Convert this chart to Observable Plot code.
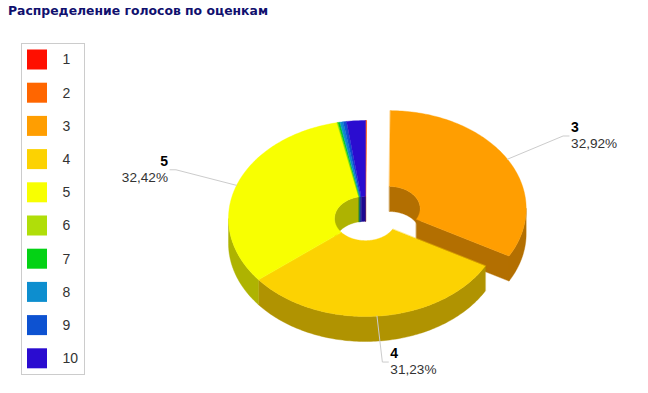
<!DOCTYPE html>
<html><head><meta charset="utf-8">
<script src="https://cdn.jsdelivr.net/npm/d3@7"></script>
<script src="https://cdn.jsdelivr.net/npm/@observablehq/plot@0.6"></script>
<style>
body{margin:0;background:#fff;}
#wrap{position:relative;width:648px;height:393px;overflow:hidden;}
#title{position:absolute;left:8px;top:3px;font:bold 12.4px "DejaVu Sans",Verdana,sans-serif;color:#10106e;white-space:nowrap;}
#wrap svg{display:block;}
</style></head><body>
<div id="wrap"><div id="title">Распределение голосов по оценкам</div></div>
<script>
// ---- data ----
const grades = ["1","2","3","4","5","6","7","8","9","10"];
const shares = [0.10, 0.03, 32.92, 31.23, 32.42, 0.07, 0.24, 0.38, 0.40, 2.21];
const colors = ["#FF0F00","#FF6600","#FF9E01","#FCD202","#F8FF01","#B0DE09","#04D215","#0D8ECF","#0D52D1","#2A0CD0"];
const labelledGrades = ["3","4","5"];
const explodedGrades = ["3"];

// ---- layout ----
const W = 648, H = 393;
const CX = 365, CY = 218, RX = 137, RY = 98, INNER = 0.226, DEPTH = 25;
const EXPLODE = 0.2, LABEL_K = 1.47, TICK = 6, GAP = 2;
const SIDE_DARK = 0.7;

const pieGen = d3.pie().sort(null).value(d => d.share).startAngle(0).endAngle(2 * Math.PI);
const rows = grades.map((g, i) => ({grade: g, share: shares[i], color: colors[i]}));
const arcs = pieGen(rows).map(a => {
  const mid = (a.startAngle + a.endAngle) / 2;
  const ex = explodedGrades.includes(a.data.grade);
  const off = ex ? [EXPLODE * RX * Math.sin(mid), -EXPLODE * RY * Math.cos(mid)] : [0, 0];
  return {...a, mid, ex, off};
});

function dark(c) { const r = d3.rgb(c); return d3.rgb(r.r * SIDE_DARK, r.g * SIDE_DARK, r.b * SIDE_DARK).formatHex(); }
function pt(a, k, dz, off) { return [CX + off[0] + k * RX * Math.sin(a), CY + off[1] - k * RY * Math.cos(a) + dz]; }
function arcPts(a0, a1, k, dz, off) {
  const n = Math.max(2, Math.ceil(Math.abs(a1 - a0) / (Math.PI / 180)) + 1);
  return d3.range(n).map(i => pt(a0 + (a1 - a0) * i / (n - 1), k, dz, off));
}
function poly(list, id, fill, pts) { pts.forEach(([x, y]) => list.push({id, fill, x, y})); }

const innerWalls = [], cutFaces = [], outerWalls = [], topFaces = [];
const HALF = Math.PI / 2;
arcs.forEach((a, i) => {
  const c = a.data.color, dc = dark(c), g = a.data.grade;
  poly(topFaces, "t" + g, c, [...arcPts(a.startAngle, a.endAngle, 1, 0, a.off), ...arcPts(a.endAngle, a.startAngle, INNER, 0, a.off)]);
  const o0 = Math.max(a.startAngle, HALF), o1 = Math.min(a.endAngle, 3 * HALF);
  if (o1 > o0) poly(outerWalls, "o" + g, dc, [...arcPts(o0, o1, 1, 0, a.off), ...arcPts(o1, o0, 1, DEPTH, a.off)]);
  [[0, HALF], [3 * HALF, 4 * HALF]].forEach(([b0, b1], j) => {
    const s0 = Math.max(a.startAngle, b0), s1 = Math.min(a.endAngle, b1);
    if (s1 > s0) poly(innerWalls, "i" + g + "_" + j, dc, [...arcPts(s0, s1, INNER, 0, a.off), ...arcPts(s1, s0, INNER, DEPTH, a.off)]);
  });
  const prev = arcs[(i + arcs.length - 1) % arcs.length], next = arcs[(i + 1) % arcs.length];
  if ((a.ex || prev.ex) && -Math.sin(a.startAngle) > 0.01) {
    const s = a.startAngle;
    poly(cutFaces, "cs" + g, dc, [pt(s, INNER, 0, a.off), pt(s, 1, 0, a.off), pt(s, 1, DEPTH, a.off), pt(s, INNER, DEPTH, a.off)]);
  }
  if ((a.ex || next.ex) && Math.sin(a.endAngle) > 0.01) {
    const e = a.endAngle;
    poly(cutFaces, "ce" + g, dc, [pt(e, INNER, 0, a.off), pt(e, 1, 0, a.off), pt(e, 1, DEPTH, a.off), pt(e, INNER, DEPTH, a.off)]);
  }
});

// labels
const fmt = v => d3.format(".2f")(v).replace(".", ",") + "%";
const labels = arcs.filter(a => labelledGrades.includes(a.data.grade)).map(a => {
  const [ex0, ey0] = pt(a.mid, 1, 0, a.off);
  const [lx, ly] = pt(a.mid, LABEL_K, 0, a.off);
  const right = Math.sin(a.mid) >= 0;
  const dir = right ? 1 : -1;
  return {grade: a.data.grade, pct: fmt(a.data.share), right,
    line: [[ex0, ey0], [lx, ly], [lx + dir * TICK, ly]],
    tx: lx + dir * (TICK + GAP), ty: ly};
});
const labelLines = labels.flatMap(l => l.line.map(([x, y]) => ({id: l.grade, x, y})));
const labelsR = labels.filter(l => l.right), labelsL = labels.filter(l => !l.right);

function labelMarks(data, anchor) {
  return [
    Plot.text(data, {x: "tx", y: d => d.ty - 4, text: "grade", textAnchor: anchor, lineAnchor: "bottom", fontWeight: "bold", fontSize: 14, fill: "#000"}),
    Plot.text(data, {x: "tx", y: d => d.ty + 12, text: "pct", textAnchor: anchor, lineAnchor: "bottom", fontSize: 13.6, fill: "#333"})
  ];
}

// legend
const LEG_X = 27, LEG_Y = 49.5, LEG_STEP = 33.2, SW = 20, LEG_TX = 62;
const legendRows = rows.map((r, i) => ({...r, y: LEG_Y + i * LEG_STEP}));

const faceOpts = {x: "x", y: "y", z: "id", fill: "fill", stroke: "fill", strokeWidth: 0.4, curve: "linear-closed"};
const chart = Plot.plot({
  width: W, height: H, margin: 0,
  x: {domain: [0, W], range: [0, W], axis: null},
  y: {domain: [0, H], range: [0, H], axis: null},
  color: {type: "identity"},
  style: {background: "white", fontFamily: "'Liberation Sans', Arial, sans-serif", overflow: "visible"},
  marks: [
    Plot.line(innerWalls, faceOpts),
    Plot.line(cutFaces, faceOpts),
    Plot.line(outerWalls, faceOpts),
    Plot.line(topFaces, faceOpts),
    Plot.line(labelLines, {x: "x", y: "y", z: "id", stroke: "#cccccc", strokeWidth: 1}),
    ...labelMarks(labelsR, "start"),
    ...labelMarks(labelsL, "end"),
    Plot.rect([{}], {x1: 21.5, x2: 84.5, y1: 43.5, y2: 374.5, fill: "none", stroke: "#cccccc", strokeWidth: 1}),
    Plot.rect(legendRows, {x1: LEG_X, x2: LEG_X + SW, y1: "y", y2: d => d.y + SW, fill: "color"}),
    Plot.text(legendRows, {x: LEG_TX, y: d => d.y + SW / 2, text: "grade", textAnchor: "start", fontSize: 14, fill: "#333"})
  ]
});
document.getElementById("wrap").appendChild(chart);
</script>
</body></html>
